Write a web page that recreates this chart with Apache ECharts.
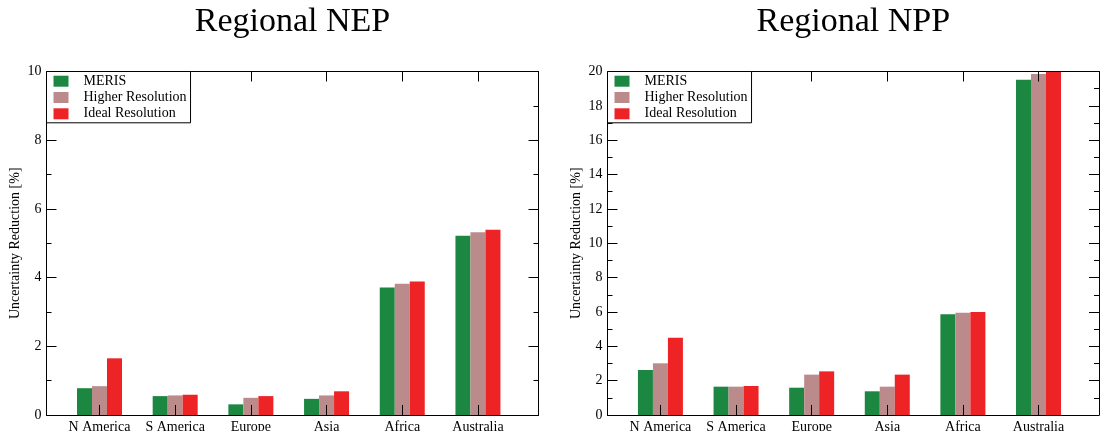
<!DOCTYPE html>
<html>
<head>
<meta charset="utf-8">
<script src="https://cdn.jsdelivr.net/npm/echarts@6/dist/echarts.min.js"></script>
<style>
  html, body { margin: 0; padding: 0; background: #fff; }
  #chart { width: 1103px; height: 431px; }
</style>
</head>
<body>
<div id="chart"></div>
<script>
// Regions shown on both panels
const categories = ['N America', 'S America', 'Europe', 'Asia', 'Africa', 'Australia'];

// Regional NEP uncertainty reduction [%]
const nepMeris  = [0.78, 0.55, 0.31, 0.47, 3.71, 5.22];
const nepHigher = [0.84, 0.57, 0.50, 0.57, 3.82, 5.32];
const nepIdeal  = [1.65, 0.59, 0.55, 0.69, 3.89, 5.39];

// Regional NPP uncertainty reduction [%]
const nppMeris  = [2.62, 1.65, 1.59, 1.38, 5.86, 19.52];
const nppHigher = [3.01, 1.65, 2.35, 1.65, 5.96, 19.85];
const nppIdeal  = [4.50, 1.69, 2.54, 2.35, 6.00, 20.00];

const seriesNames = ['MERIS', 'Higher Resolution', 'Ideal Resolution'];
const colors = ['#1b8741', '#bb8b8b', '#ee2326'];
const nepTicks = [0, 2, 4, 6, 8, 10];
const nppTicks = [0, 2, 4, 6, 8, 10, 12, 14, 16, 18, 20];

const FONT = "'Liberation Serif', 'DejaVu Serif', serif";
// regions sit at slots 1..6 on a numeric x scale
const slots = categories.map((c, i) => i + 1);
const X_MIN = 0.3, X_MAX = 6.8;

const chart = echarts.init(document.getElementById('chart'), null, { renderer: 'canvas' });

const grids = [
  { left: 46.5, right: 564.5, top: 71.5, bottom: 16, containLabel: false, outerBoundsMode: 'none' },
  { left: 607.5, right: 4, top: 71.5, bottom: 16, containLabel: false, outerBoundsMode: 'none' }
];

function xAxes(gridIndex) {
  const base = {
    type: 'value', gridIndex, min: X_MIN, max: X_MAX, z: 3,
    splitLine: { show: false },
    axisLine: { show: true, onZero: false, lineStyle: { color: '#000', width: 1 } },
    axisTick: { show: true, inside: true, length: 10, customValues: slots, lineStyle: { color: '#000' } }
  };
  return [
    Object.assign({}, base, {
      position: 'bottom',
      axisLabel: {
        show: true, customValues: slots, margin: 5,
        color: '#000', fontFamily: FONT, fontSize: 14,
        formatter: v => categories[Math.round(v) - 1] || ''
      }
    }),
    Object.assign({}, base, { position: 'top', axisLabel: { show: false } })
  ];
}

function yAxes(gridIndex, max, ticks) {
  const base = {
    type: 'value', gridIndex, min: 0, max, interval: 2, z: 3,
    splitLine: { show: false },
    axisLine: { show: true, onZero: false, lineStyle: { color: '#000', width: 1 } },
    axisTick: { show: true, inside: true, length: 10, lineStyle: { color: '#000' } },
    minorTick: { show: true, splitNumber: 2, length: 5, lineStyle: { color: '#000' } }
  };
  return [
    Object.assign({}, base, {
      position: 'left',
      name: 'Uncertainty Reduction [%]',
      nameLocation: 'middle',
      nameGap: 24,
      nameTextStyle: { color: '#000', fontFamily: FONT, fontSize: 14 },
      axisLabel: {
        show: true, margin: 5, color: '#000', fontFamily: FONT, fontSize: 14,
        customValues: ticks
      }
    }),
    Object.assign({}, base, { position: 'right', axisLabel: { show: false } })
  ];
}

function barSeries(gridAxis, values, idx) {
  return {
    name: seriesNames[idx],
    type: 'bar',
    xAxisIndex: gridAxis.x,
    yAxisIndex: gridAxis.y,
    barWidth: 15,
    barGap: '0%',
    z: 2,
    itemStyle: { color: colors[idx] },
    data: values.map((v, i) => [slots[i], v])
  };
}

function legendAt(left) {
  return {
    left, top: 71.5, orient: 'vertical',
    selectedMode: false,
    icon: 'rect', itemWidth: 15, itemHeight: 11, itemGap: 2.3,
    padding: [2.7, 4, 2, 7],
    backgroundColor: '#fff', borderColor: '#000', borderWidth: 1,
    z: 10,
    textStyle: { color: '#000', fontFamily: FONT, fontSize: 14, lineHeight: 14, padding: [0, 0, 0, 10] },
    data: seriesNames
  };
}

const option = {
  backgroundColor: '#fff',
  animation: false,
  title: [
    { text: 'Regional NEP', left: 292.5, top: 5, textAlign: 'center', padding: 0,
      textStyle: { color: '#000', fontFamily: FONT, fontSize: 34, fontWeight: 'normal' } },
    { text: 'Regional NPP', left: 853.3, top: 5, textAlign: 'center', padding: 0,
      textStyle: { color: '#000', fontFamily: FONT, fontSize: 34, fontWeight: 'normal' } }
  ],
  legend: [legendAt(46.5), legendAt(607.5)],
  grid: grids,
  xAxis: [...xAxes(0), ...xAxes(1)],
  yAxis: [...yAxes(0, 10, nepTicks), ...yAxes(1, 20, nppTicks)],
  series: [
    barSeries({ x: 0, y: 0 }, nepMeris, 0),
    barSeries({ x: 0, y: 0 }, nepHigher, 1),
    barSeries({ x: 0, y: 0 }, nepIdeal, 2),
    barSeries({ x: 2, y: 2 }, nppMeris, 0),
    barSeries({ x: 2, y: 2 }, nppHigher, 1),
    barSeries({ x: 2, y: 2 }, nppIdeal, 2)
  ]
};

chart.setOption(option);
</script>
</body>
</html>
